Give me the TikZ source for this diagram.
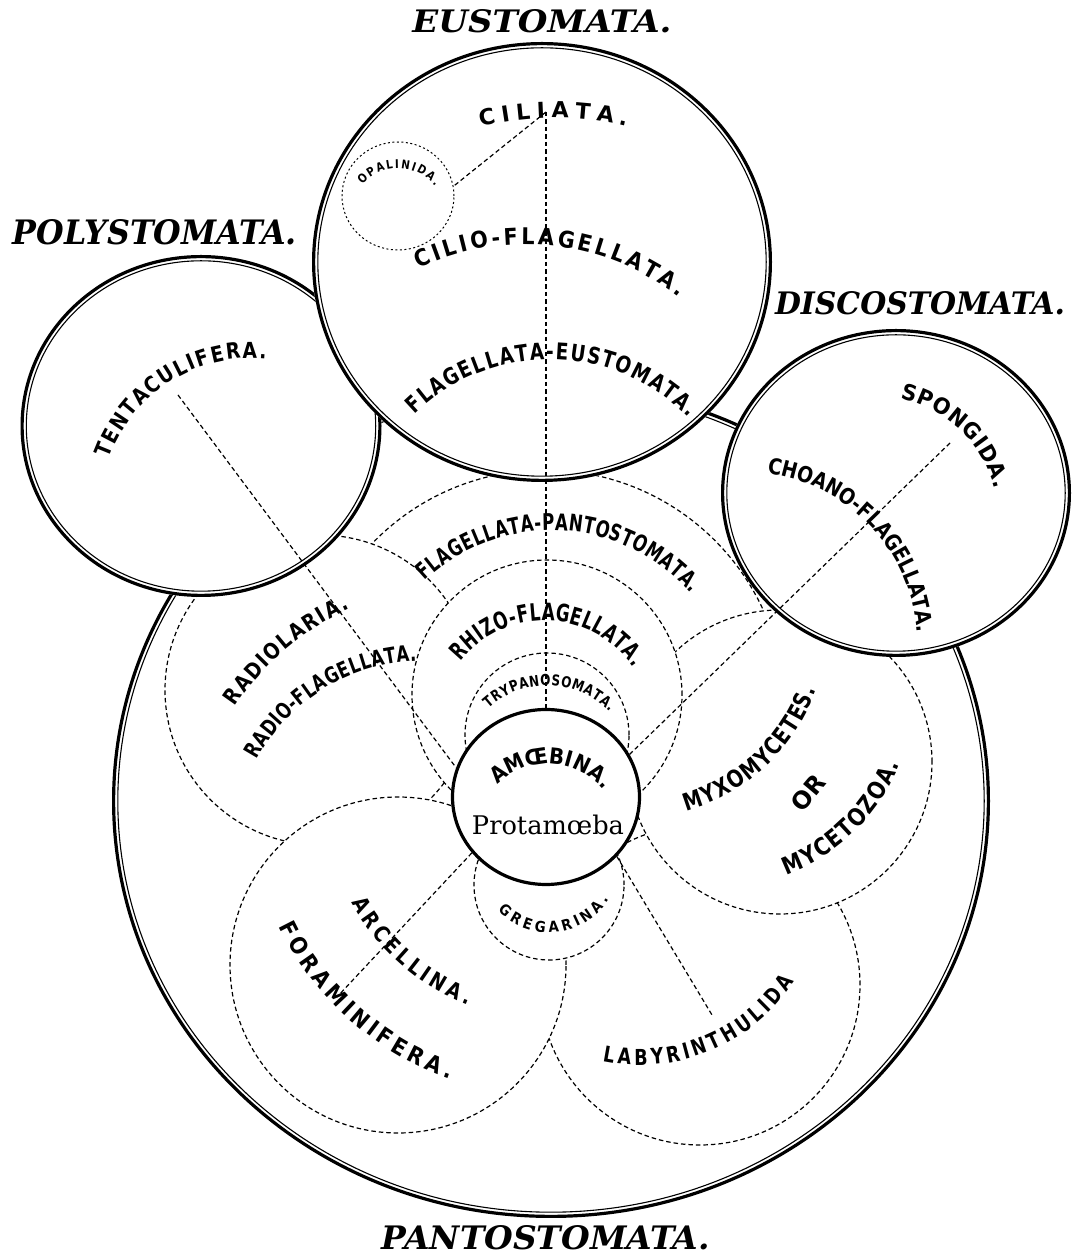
\documentclass[tikz,border=0pt]{standalone}
\usepackage{fontspec}
\usepackage{graphicx}
\usetikzlibrary{shapes.geometric}
\newfontfamily\labelfont{DejaVu Sans}
\newfontfamily\titlefont{DejaVu Serif}
\newfontfamily\protfont{DejaVu Serif}

\tikzset{
  lobe/.style={draw=black, fill=white, line width=1.2pt, dash pattern=on 4.5pt off 3pt},
  radial/.style={draw=black, line width=1.2pt, dash pattern=on 4.5pt off 3pt},
  lbl/.style={inner sep=0pt, outer sep=0pt, anchor=base},
  title/.style={inner sep=0pt, anchor=center},
}

\newcommand\dblring[4]{%
  \fill[white] (#1,#2) ellipse [x radius={#3}, y radius={#4}];
  \draw[line width=3.2pt] (#1,#2) ellipse [x radius={#3-1.6}, y radius={#4-1.6}];
  \draw[line width=1.1pt] (#1,#2) ellipse [x radius={#3-5.8}, y radius={#4-5.8}];
}

% #1 name, #2 cx, #3 cy, #4 radius of letter centres, #5 angle of first letter,
% #6 angle of last letter, #7 font size, #8 xscale, #9 letters
\newcommand\ArcLbl[9]{%
  \begingroup
  \def\lfont{\fontsize{#7}{#7}\selectfont\labelfont\bfseries}%
  \lfont
  \gdef\arcS{0}\gdef\arcN{0}\gdef\arcWa{0}\gdef\arcWb{0}%
  \foreach \arcch in {#9}{%
    \pgfmathsetmacro\arcw{width("\arcch")*#8}%
    \pgfmathsetmacro\arctmp{\arcS+\arcw}\xdef\arcS{\arctmp}%
    \pgfmathtruncatemacro\arcnn{\arcN+1}\xdef\arcN{\arcnn}%
    \ifnum\arcN=1 \xdef\arcWa{\arcw}\fi
    \xdef\arcWb{\arcw}%
  }%
  \pgfmathsetmacro\arcdir{ifthenelse((#6)>(#5),1,-1)}%
  \pgfmathsetmacro\arcL{abs((#6)-(#5))*pi/180*(#4)}%
  \pgfmathsetmacro\arctrk{(\arcL-\arcS+\arcWa/2+\arcWb/2)/max(\arcN-1,1)}%
  \pgfmathsetmacro\arcrb{(#4)+\arcdir*0.729*(#7)/2}%
  \gdef\arcP{0}%
  \foreach \arcch [count=\arck] in {#9}{%
    \pgfmathsetmacro\arcw{width("\arcch")*#8}%
    \pgfmathsetmacro\arcs{\arcP+\arcw/2-\arcWa/2}%
    \pgfmathsetmacro\arcang{(#5)+\arcdir*\arcs/(#4)*180/pi}%
    \pgfmathsetmacro\arcrot{\arcang+\arcdir*90}%
    \node[lbl, font=\lfont, rotate=\arcrot, xscale=#8] (#1-\arck) at ({(#2)+\arcrb*cos(\arcang)},{(#3)+\arcrb*sin(\arcang)}) {\arcch};
    \pgfmathsetmacro\arctmp{\arcP+\arcw+\arctrk}\xdef\arcP{\arctmp}%
  }%
  \endgroup}

\begin{document}
\begin{tikzpicture}[x=1pt, y=1pt]
\fill[white] (0,0) rectangle (1072,1259);
\path[use as bounding box] (0,0) rectangle (1072,1259);

% Pantostomata
\dblring{551}{458}{439}{417}

% lobes
\draw[lobe] (545,549) circle [radius=240];
\draw[lobe] (320,569) circle [radius=155];
\draw[lobe] (700,274) circle [radius=160];
\draw[lobe] (780,497) circle [radius=152];
\draw[lobe] (398,294) circle [radius=168];
\draw[lobe] (547,564) circle [radius=135];
\draw[lobe] (547,524) circle [radius=82];
\draw[lobe] (549,374) circle [radius=75];

\node[ellipse, draw, line width=3.2pt, fill=white, minimum width=187pt, minimum height=175pt, inner sep=0pt] (amoeba) at (546,462) {};

% outer circles
\dblring{201}{833}{180.5}{171}
\dblring{542}{997}{230}{220}
\dblring{896}{766}{175}{164}

\node[ellipse, draw, line width=1pt, dash pattern=on 2pt off 2.5pt, minimum width=112pt, minimum height=108pt, inner sep=0pt] (opal) at (398,1063) {};

% radial lines
\coordinate (cilpt) at (546,1147);
\coordinate (tentpt) at (178,864);
\coordinate (choanopt) at (950,816);
\coordinate (arcpt) at (337,262);
\coordinate (labpt) at (712,244);
\draw[radial] (cilpt) -- (amoeba.north);
\draw[radial] (cilpt) -- (opal.10);
\draw[radial] (tentpt) -- (amoeba.162);
\draw[radial] (choanopt) -- (amoeba.27);
\draw[radial] (amoeba.217) -- (arcpt);
\draw[radial] (amoeba.320) -- (labpt);

% titles
\node[title] (teu) at (542,1238) {\resizebox{259pt}{23pt}{\titlefont\bfseries\itshape EUSTOMATA.}};
\node[title] (tpoly) at (155,1027) {\resizebox{284pt}{25pt}{\titlefont\bfseries\itshape POLYSTOMATA.}};
\node[title] (tdisc) at (920,956) {\resizebox{290pt}{23pt}{\titlefont\bfseries\itshape DISCOSTOMATA.}};
\node[title] (tpanto) at (546,21) {\resizebox{328pt}{24pt}{\titlefont\bfseries\itshape PANTOSTOMATA.}};

% labels
\ArcLbl{cil}{555}{829}{320}{102.3}{77.4}{22}{1}{C,I,L,I,A,T,A,.}
\ArcLbl{cf}{525}{765}{258}{113.6}{52.9}{23}{0.9}{C,I,L,I,O,-,F,L,A,G,E,L,L,A,T,A,.}
\ArcLbl{fe}{550}{706}{202}{132.5}{45.4}{23}{0.8}{F,L,A,G,E,L,L,A,T,A,-,E,U,S,T,O,M,A,T,A,.}
\ArcLbl{ten}{252}{749}{160}{157.8}{86}{22}{0.85}{T,E,N,T,A,C,U,L,I,F,E,R,A,.}
\ArcLbl{rad}{469}{395}{290}{144.7}{115.7}{22}{0.85}{R,A,D,I,O,L,A,R,I,A,.}
\ArcLbl{rfl}{423}{409}{197}{149.5}{92.9}{22}{0.75}{R,A,D,I,O,-,F,L,A,G,E,L,L,A,T,A,.}
\ArcLbl{fpa}{552}{544}{193}{131.7}{42.2}{23}{0.72}{F,L,A,G,E,L,L,A,T,A,-,P,A,N,T,O,S,T,O,M,A,T,A,.}
\ArcLbl{rhi}{545}{531}{116}{138.1}{36.2}{24}{0.7}{R,H,I,Z,O,-,F,L,A,G,E,L,L,A,T,A,.}
\ArcLbl{try}{547}{487}{92}{129.8}{45.4}{15}{0.8}{T,R,Y,P,A,N,O,S,O,M,A,T,A,.}
\ArcLbl{amb}{548}{423}{80}{128.6}{42.9}{22}{0.9}{A,M,Œ,B,I,N,A,.}
\ArcLbl{opa}{398}{1044}{51}{134.2}{40.2}{12}{0.85}{O,P,A,L,I,N,I,D,A,.}
\ArcLbl{spo}{875}{739}{132}{74.6}{16.2}{22}{0.95}{S,P,O,N,G,I,D,A,.}
\ArcLbl{cho}{745}{614}{181}{80.4}{5.3}{22}{0.85}{C,H,O,A,N,O,-,F,L,A,G,E,L,L,A,T,A,.}
\ArcLbl{myx}{633}{635}{186}{-71.2}{-20.8}{24}{0.8}{M,Y,X,O,M,Y,C,E,T,E,S,.}
\ArcLbl{myc}{719}{567}{186}{-66.9}{-22.9}{24}{0.85}{M,Y,C,E,T,O,Z,O,A,.}
\ArcLbl{gre}{549}{397}{65}{227.9}{326}{15}{0.9}{G,R,E,G,A,R,I,N,A,.}
\ArcLbl{arc}{548}{462}{215}{210.1}{248}{22}{0.85}{A,R,C,E,L,L,I,N,A,.}
\ArcLbl{for}{548}{462}{290}{207}{250}{23}{0.9}{F,O,R,A,M,I,N,I,F,E,R,A,.}
\ArcLbl{lab}{640}{379}{177}{260}{324.6}{22}{0.8}{L,A,B,Y,R,I,N,T,H,U,L,I,D,A}

\node[inner sep=0pt, rotate=50, font=\fontsize{24}{24}\selectfont\labelfont\bfseries] (orlbl) at (808,466) {OR};
\node[inner sep=0pt, anchor=base] (prot) at (548,424) {\resizebox{152pt}{!}{\protfont\fontsize{25}{25}\selectfont Protamœba}};
\end{tikzpicture}
\end{document}
